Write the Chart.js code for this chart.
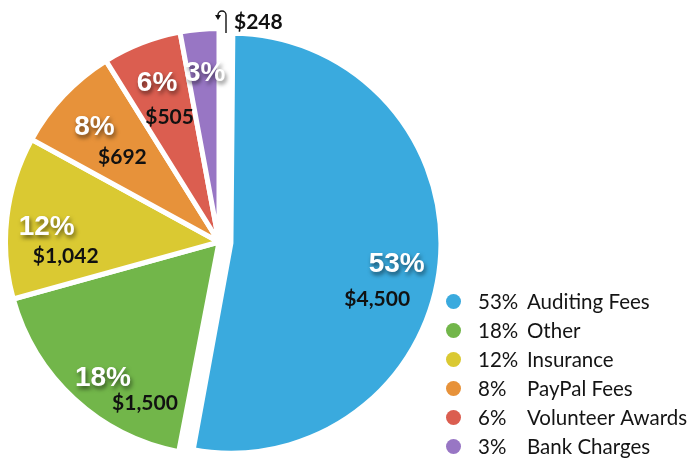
<!DOCTYPE html>
<html><head><meta charset="utf-8">
<script src="https://cdn.jsdelivr.net/npm/chart.js@4.4.1/dist/chart.umd.min.js"></script>
<style>html,body{margin:0;padding:0;background:#fff;overflow:hidden}#wrap{width:689px;height:458px;position:relative}</style>
</head><body><div id="wrap"><canvas id="c" width="689" height="458"></canvas></div>
<script>
// ---- data ----
const categories = ['Auditing Fees', 'Other', 'Insurance', 'PayPal Fees', 'Volunteer Awards', 'Bank Charges'];
const amounts = [4500, 1500, 1042, 692, 505, 248];
const percentLabels = ['53%', '18%', '12%', '8%', '6%', '3%'];
const amountLabels = ['$4,500', '$1,500', '$1,042', '$692', '$505', '$248'];

// ---- styles ----
const colors = ['#3aaade', '#72b64a', '#dac932', '#e7923a', '#db5e50', '#9876c4'];
const sliceShift = [12, 0, 0, 0, 0, 0];            // px the slice is pulled out
const sliceOffsets = sliceShift.map(s => s * 4);   // Chart.js arc translates by offset/4
const PIE_R = 213.5;
// percent label placement: [radius px, angle tweak deg]
const pctPlace = [[167, 1.5], [178, -2], [173, -1.3], [170, -0.5], [171, 0], [170, 0.6]];
// amount label nudge relative to percent label (px)
const amountNudge = [[-19.5, 35.5], [42, 26], [19, 30], [28, 31], [12.5, 34.5], null];

const shrinkBig = {
  id: 'shrinkBig',
  beforeDatasetsDraw(chart) {
    const a = chart.getDatasetMeta(0).data[0];
    // Chart.js also grows an offset slice's radius by offset/4; compensate
    a.outerRadius = PIE_R - 3.5 - sliceShift[0];
  }
};

const labels = {
  id: 'labels',
  afterDatasetsDraw(chart) {
    const ctx = chart.ctx;
    const meta = chart.getDatasetMeta(0);
    meta.data.forEach((arc, i) => {
      const mid = (arc.startAngle + arc.endAngle) / 2;
      const t = sliceShift[i];
      const cx = arc.x + Math.cos(mid) * t, cy = arc.y + Math.sin(mid) * t;
      const ang = mid + pctPlace[i][1] * Math.PI / 180;
      const px = cx + Math.cos(ang) * pctPlace[i][0], py = cy + Math.sin(ang) * pctPlace[i][0];
      ctx.save();
      ctx.textAlign = 'center'; ctx.textBaseline = 'middle';
      ctx.font = 'bold 28px "Liberation Sans", Arial, sans-serif';
      ctx.shadowColor = 'rgba(0,0,0,0.55)';
      ctx.shadowOffsetX = 1.5; ctx.shadowOffsetY = 3; ctx.shadowBlur = 4;
      ctx.fillStyle = '#ffffff';
      ctx.fillText(percentLabels[i], px, py + 1);
      ctx.restore();
      ctx.save();
      ctx.fillStyle = '#111';
      ctx.font = 'bold 21px Lato, "Liberation Sans Narrow", sans-serif';
      ctx.textBaseline = 'middle';
      if (amountNudge[i]) {
        ctx.textAlign = 'center';
        ctx.fillText(amountLabels[i], px + amountNudge[i][0], py + amountNudge[i][1]);
      } else {
        // outside label with hook arrow at the top of the slice's outer edge
        const ex = arc.x + Math.cos(arc.endAngle) * (PIE_R - 2.5);
        const ey = arc.y + Math.sin(arc.endAngle) * (PIE_R - 2.5);
        ctx.textAlign = 'left';
        ctx.fillText(amountLabels[i], ex + 15, ey - 9);
        ctx.strokeStyle = '#111'; ctx.lineWidth = 1.4;
        const ax = ex + 7;
        ctx.beginPath();
        ctx.moveTo(ax, ey + 2);
        ctx.lineTo(ax, ey - 16);
        ctx.arc(ax - 4, ey - 16, 4, 0, Math.PI, true);
        ctx.lineTo(ax - 8, ey - 15);
        ctx.stroke();
        ctx.beginPath();
        ctx.moveTo(ax - 11, ey - 16);
        ctx.lineTo(ax - 5, ey - 16);
        ctx.lineTo(ax - 8, ey - 11);
        ctx.closePath(); ctx.fillStyle = '#111'; ctx.fill();
      }
      ctx.restore();
    });
  }
};

const legend = {
  id: 'sideLegend',
  afterDraw(chart) {
    const ctx = chart.ctx;
    ctx.save();
    categories.forEach((c, i) => {
      const y = 301.5 + i * 29;
      ctx.beginPath();
      ctx.arc(453.5, y, 7.5, 0, Math.PI * 2);
      ctx.fillStyle = colors[i];
      ctx.fill();
      ctx.fillStyle = '#141414';
      ctx.font = '20.5px Lato, sans-serif';
      ctx.textBaseline = 'middle';
      ctx.textAlign = 'left';
      ctx.fillText(percentLabels[i], 478, y + 1);
      ctx.fillText(c, 527, y + 1);
    });
    ctx.restore();
  }
};

new Chart(document.getElementById('c'), {
  type: 'pie',
  data: {
    labels: categories,
    datasets: [{
      data: amounts,
      backgroundColor: colors,
      borderColor: '#ffffff',
      borderWidth: 5,
      offset: sliceOffsets,
      clip: false
    }]
  },
  options: {
    responsive: false,
    devicePixelRatio: 1,
    animation: false,
    radius: PIE_R,
    layout: { padding: { left: 0, right: 251, top: 26, bottom: 0 } },
    plugins: { legend: { display: false }, tooltip: { enabled: false } }
  },
  plugins: [shrinkBig, labels, legend]
});
</script>
</body></html>
